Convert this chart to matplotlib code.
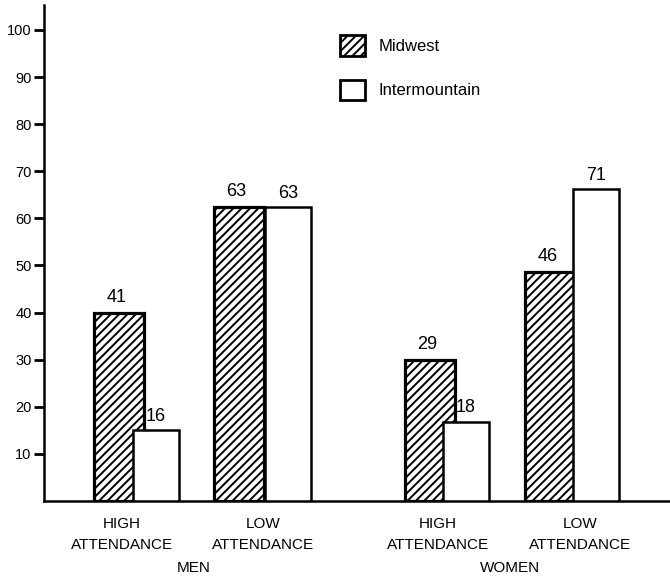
import matplotlib
matplotlib.use("Agg")
import matplotlib.pyplot as plt
from matplotlib.patches import Patch

plt.rcParams["font.family"] = ["Liberation Sans", "DejaVu Sans"]
plt.rcParams["hatch.linewidth"] = 1.4

# data: bar heights as drawn, labels as printed
groups = ["MEN", "WOMEN"]
categories = ["HIGH\nATTENDANCE", "LOW\nATTENDANCE", "HIGH\nATTENDANCE", "LOW\nATTENDANCE"]
midwest_height = [40, 62.4, 30, 48.6]
intermountain_height = [15, 62.4, 16.8, 66.2]
midwest_label = ["41", "63", "29", "46"]
intermountain_label = ["16", "63", "18", "71"]
yticks = [10, 20, 30, 40, 50, 60, 70, 80, 90, 100]

# layout (axes x units ~ pixels from the y axis)
mid_left = [50, 170, 361, 481]
mid_width = 50
int_left = [89, 221, 399, 529]
int_width = 46
cat_x = [78, 219, 394, 536]
group_x = [150, 466]

fig = plt.figure(figsize=(6.7, 5.79), dpi=100)
ax = fig.add_axes([44 / 670, 78 / 579, 626 / 670, 496 / 579])

ax.bar(mid_left, midwest_height, width=mid_width, align="edge",
       facecolor="white", edgecolor="black", hatch="////", linewidth=2.3, zorder=2)
ax.bar(int_left, intermountain_height, width=int_width, align="edge",
       facecolor="white", edgecolor="black", linewidth=1.8, zorder=3)

for x, h, lab in zip(mid_left, midwest_height, midwest_label):
    ax.annotate(lab, xy=(x + mid_width / 2, h), xytext=(-2, 11), textcoords="offset points",
                ha="center", va="center", fontsize=13)
for x, h, lab in zip(int_left, intermountain_height, intermountain_label):
    ax.annotate(lab, xy=(x + int_width / 2, h), xytext=(0, 10), textcoords="offset points",
                ha="center", va="center", fontsize=13)

for x, lab in zip(cat_x, categories):
    ax.annotate(lab, xy=(x, 0), xytext=(0, -24), textcoords="offset points",
                ha="center", va="center", fontsize=11, linespacing=1.6,
                annotation_clip=False)
for x, g in zip(group_x, groups):
    ax.annotate(g, xy=(x, 0), xytext=(0, -48), textcoords="offset points",
                ha="center", va="center", fontsize=11, annotation_clip=False)

ax.set_xlim(0, 626)
ax.set_ylim(0, 105.3)
ax.set_xticks([])
ax.set_yticks(yticks)
ax.tick_params(axis="y", direction="out", length=7, width=2.0, labelsize=10.5, pad=2)
for side in ("top", "right"):
    ax.spines[side].set_visible(False)
for side in ("left", "bottom"):
    ax.spines[side].set_linewidth(1.8)

handles = [
    Patch(facecolor="white", edgecolor="black", hatch="////", linewidth=2.0, label="Midwest"),
    Patch(facecolor="white", edgecolor="black", linewidth=2.0, label="Intermountain"),
]
ax.legend(handles=handles, loc="upper left", bbox_to_anchor=(332 / 670, 1 - 27 / 579),
          bbox_transform=fig.transFigure, frameon=False, fontsize=12, borderpad=0,
          handlelength=1.5, handleheight=1.55, labelspacing=1.4, handletextpad=0.8)

fig.savefig("out.png", dpi=100)
